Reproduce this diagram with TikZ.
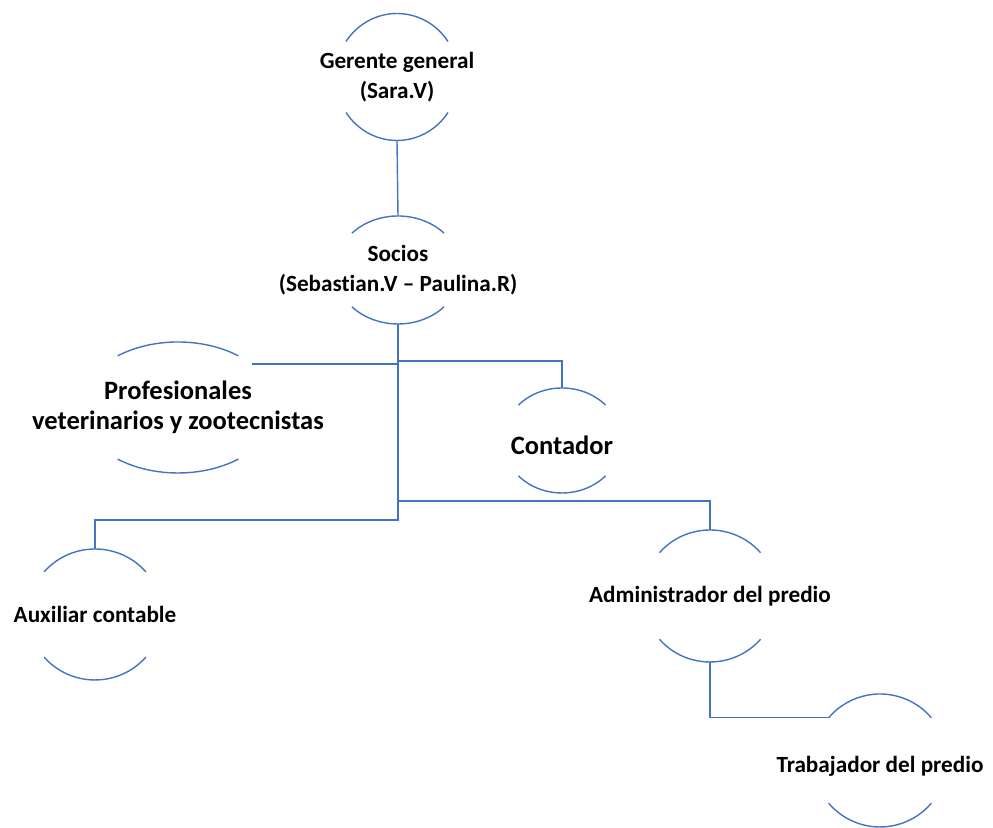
\documentclass[tikz,border=0pt]{standalone}
\usepackage{fontspec}
\setmainfont[Ligatures={NoCommon}]{Carlito}
\usepackage{tikz}
\definecolor{lineblue}{RGB}{68,114,196}
\tikzstyle{role} = [align=center, inner sep=0pt, text=black,
    font=\fontsize{11.6}{15}\selectfont\bfseries]
\tikzstyle{bigrole} = [role, font=\fontsize{13.25}{15}\selectfont\bfseries]
\tikzstyle{link} = [draw=lineblue, line width=0.7pt]
% top and bottom arc round a node: name, half angle, x radius, y radius
\newcommand{\sidearcs}[4]{%
  \draw[link] ([shift={(90-#2:#3 and #4)}]#1.center)
    arc[start angle=90-#2, end angle=90+#2, x radius=#3, y radius=#4];
  \draw[link] ([shift={(270-#2:#3 and #4)}]#1.center)
    arc[start angle=270-#2, end angle=270+#2, x radius=#3, y radius=#4];
}
% text set a little lower, same box
\newcommand{\lowtext}[2]{\raisebox{-#1}[\height][\depth]{#2}}

\begin{document}
\begin{tikzpicture}[x=0.5pt, y=0.5pt]
    \useasboundingbox (0,0) rectangle (993,828);
    % We start by placing the roles
    \node [role, minimum height=63.5pt] (gerente) at (397,751) {Gerente general\\(Sara.V)};
    \node [role, minimum height=54pt] (socios) at (398,558) {Socios\\(Sebastian.V -- Paulina.R)};
    \node [bigrole, minimum height=65.5pt] (prof) at (178,420.5) {Profesionales\\veterinarios y zootecnistas};
    \node [bigrole, minimum height=52.5pt] (contador) at (562,387.5) {\lowtext{2.2pt}{Contador}};
    \node [role, minimum height=65.5pt] (auxiliar) at (95,213.5) {Auxiliar contable};
    \node [role, minimum height=66pt] (admin) at (710,232) {Administrador del predio};
    \node [role, minimum height=66.5pt] (trabajador) at (880,67.5) {\lowtext{3pt}{Trabajador del predio}};
    % the arcs round each role
    \sidearcs{gerente}{56}{61.5}{63.5}
    \sidearcs{socios}{47}{63}{54}
    \sidearcs{prof}{38}{98}{65.5}
    \sidearcs{contador}{47.5}{59}{52.5}
    \sidearcs{auxiliar}{49.5}{67}{65.5}
    \sidearcs{admin}{49}{67}{66}
    \sidearcs{trabajador}{50}{67}{66.5}
    % joints on the trunk
    \coordinate (trunkend) at (398,308);
    \coordinate (profend) at (252,464);
    \coordinate (contjoin) at (398,467);
    \coordinate (adminjoin) at (398,327);
    \coordinate (trabin) at ([shift={(140:67 and 66.5)}]trabajador.center);
    % We draw the lines between the roles
    \draw [link] (gerente.south) -- (socios.north);
    \draw [link] (socios.south) -- (trunkend) -| (auxiliar.north);
    \draw [link] (socios.south |- profend) -- (profend);
    \draw [link] (contjoin) -| (contador.north);
    \draw [link] (adminjoin) -| (admin.north);
    \draw [link] (admin.south) |- (trabin);
\end{tikzpicture}
\end{document}
